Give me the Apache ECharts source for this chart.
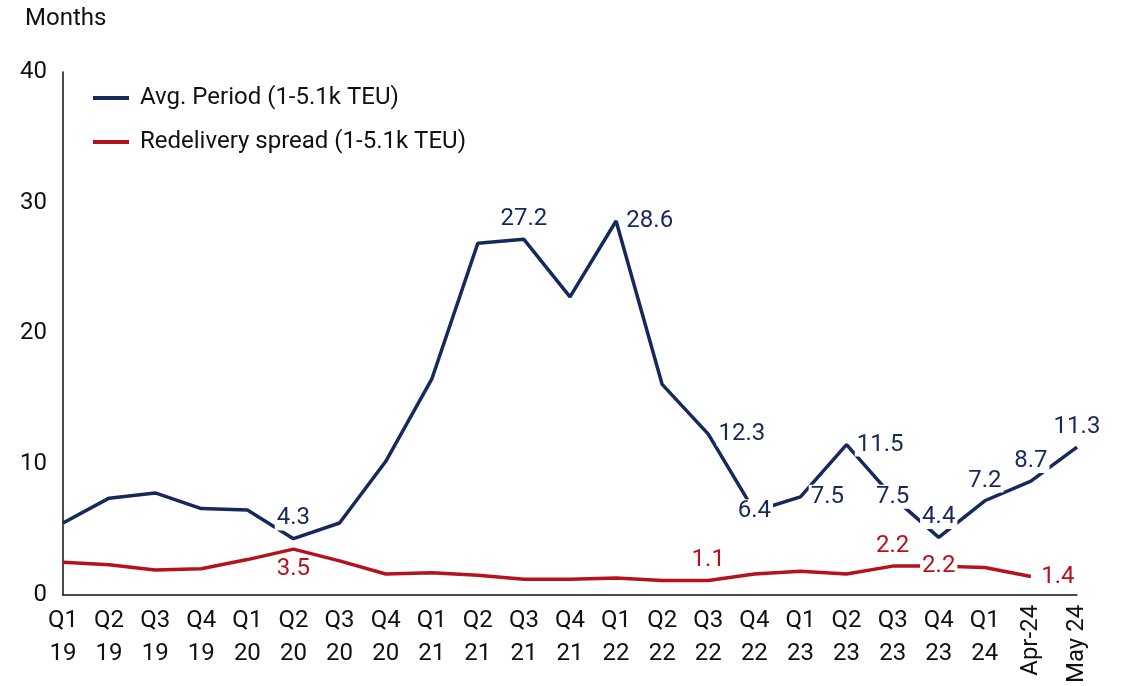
<!DOCTYPE html>
<html><head><meta charset="utf-8">
<script src="https://cdn.jsdelivr.net/npm/echarts@6/dist/echarts.min.js"></script>
<style>html,body{margin:0;padding:0;background:#fff}#c{width:1122px;height:686px}</style>
</head><body><div id="c"></div>
<script>
const categories = ['Q1\n19','Q2\n19','Q3\n19','Q4\n19','Q1\n20','Q2\n20','Q3\n20','Q4\n20','Q1\n21','Q2\n21','Q3\n21','Q4\n21','Q1\n22','Q2\n22','Q3\n22','Q4\n22','Q1\n23','Q2\n23','Q3\n23','Q4\n23','Q1\n24','Apr-24','May 24'];
const avgPeriod = [5.5,7.4,7.8,6.6,6.5,4.3,5.5,10.2,16.5,26.9,27.2,22.8,28.6,16.1,12.3,6.4,7.5,11.5,7.5,4.4,7.2,8.7,11.3];
const redeliverySpread = [2.5,2.3,1.9,2.0,2.7,3.5,2.6,1.6,1.7,1.5,1.2,1.2,1.3,1.1,1.1,1.6,1.8,1.6,2.2,2.2,2.1,1.4,null];
const yTicks = [0,10,20,30,40];
const seriesNames = ['Avg. Period (1-5.1k TEU)','Redelivery spread (1-5.1k TEU)'];

const BLUE = '#15295a', RED = '#b5121b';
const FONT = 'Roboto';
const FS = 24;

// label placements (index -> position)
const blueLabels = {5:'top',10:'top',12:'right',14:'right',15:'inside',16:'right',17:'right',18:'inside',19:'top',20:'top',21:'top',22:'top'};
const redLabels = {5:'bottom',14:'top',18:'top',19:'inside',21:'right'};

function mk(vals, labels, color){
  return vals.map((v,i)=>{
    if (v === null) return '-';
    const o = {value:v};
    if (labels[i]) {
      o.label = {show:true, position:labels[i], formatter:Number(v).toFixed(1),
        color:color, fontFamily:FONT, fontSize:FS, backgroundColor:'#fff', padding:[0,2], distance:8};
    }
    return o;
  });
}

const chart = echarts.init(document.getElementById('c'));
chart.setOption({
  animation:false,
  title:{text:'Months', left:20, top:2, textStyle:{fontFamily:FONT, fontSize:FS, fontWeight:'normal', color:'#111'}},
  legend:{orient:'vertical', left:88, top:81, itemWidth:36, itemHeight:4, itemGap:20,
    icon:'rect', textStyle:{fontFamily:FONT, fontSize:FS, color:'#111', padding:[0,0,0,6]}, data:seriesNames},
  grid:{left:63, right:45, top:72, bottom:88, containLabel:false},
  xAxis:[{type:'category', data:categories, boundaryGap:false,
    axisLine:{lineStyle:{color:'#111', width:1.5}}, axisTick:{show:false},
    axisLabel:{interval:0, color:'#111', fontFamily:FONT, fontSize:FS, lineHeight:33, margin:10,
      formatter:(v)=> (v==='Apr-24'||v==='May 24') ? '' : v}},
   {type:'category', data:categories, boundaryGap:false, position:'bottom',
    axisLine:{show:false}, axisTick:{show:false},
    axisLabel:{interval:0, rotate:90, color:'#111', fontFamily:FONT, fontSize:FS, margin:10,
      formatter:(v)=> (v==='Apr-24'||v==='May 24') ? v : ''}}],
  yAxis:{type:'value', min:yTicks[0], max:yTicks[yTicks.length-1], interval:10,
    axisLine:{show:true, lineStyle:{color:'#111', width:1.5}}, axisTick:{show:false}, splitLine:{show:false},
    axisLabel:{color:'#111', fontFamily:FONT, fontSize:FS, margin:16}},
  series:[
    {name:seriesNames[0], type:'line', data:mk(avgPeriod, blueLabels, BLUE), symbol:'circle', symbolSize:0.5, showSymbol:true,
      lineStyle:{color:BLUE, width:3.5}, itemStyle:{color:BLUE}, z:3, label:{show:false}, labelLayout:{hideOverlap:false}},
    {name:seriesNames[1], type:'line', data:mk(redeliverySpread, redLabels, RED), symbol:'circle', symbolSize:0.5, showSymbol:true,
      lineStyle:{color:RED, width:3.5}, itemStyle:{color:RED}, z:2, label:{show:false}, labelLayout:{hideOverlap:false}}
  ]
});
</script></body></html>
